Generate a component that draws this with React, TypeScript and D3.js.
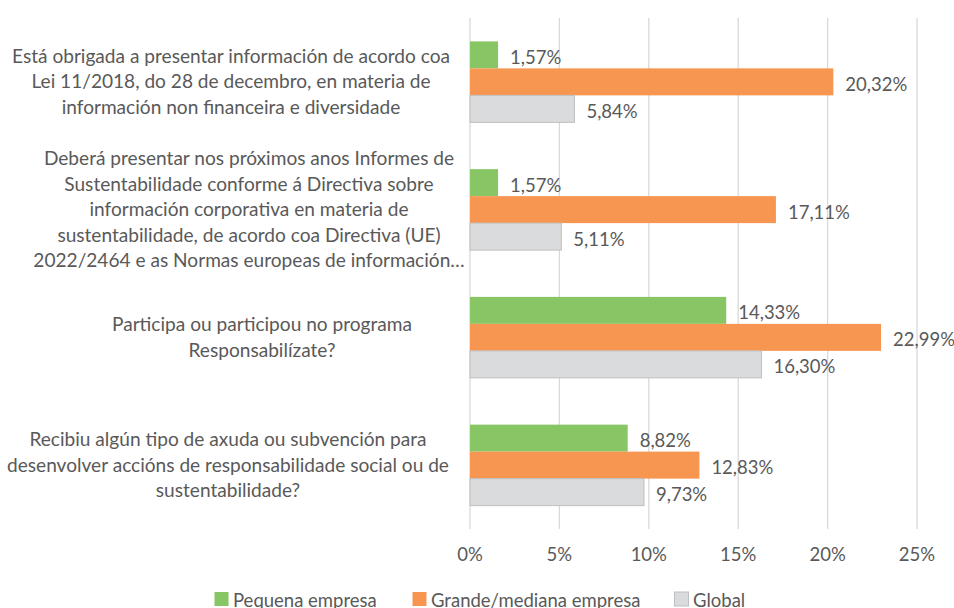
import * as d3 from "d3"

const W = 954
const H = 608
const MARGIN = { left: 470, top: 18, right: 37, bottom: 79 }
const FONT = "Lato, 'Open Sans', sans-serif"
const TEXT = "#595959"

// categories (each one wrapped in lines as in the picture)
const categories = [
  ["Está obrigada a presentar información de acordo coa", "Lei 11/2018, do 28 de decembro, en materia de", "información non financeira e diversidade"],
  ["Deberá presentar nos próximos anos Informes de", "Sustentabilidade conforme á Directiva sobre", "información corporativa en materia de", "sustentabilidade, de acordo coa Directiva (UE)", "2022/2464 e as Normas europeas de información…"],
  ["Participa ou participou no programa", "Responsabilízate?"],
  ["Recibiu algún tipo de axuda ou subvención para", "desenvolver accións de responsabilidade social ou de", "sustentabilidade?"],
]
const labelCenters = [231, 249, 262, 228]

const seriesNames = ["Pequena empresa", "Grande/mediana empresa", "Global"]
const pequena = [1.57, 1.57, 14.33, 8.82]
const grande = [20.32, 17.11, 22.99, 12.83]
const global = [5.84, 5.11, 16.30, 9.73]
const ticks = [0, 5, 10, 15, 20, 25]

const fills = ["#88c665", "#f79651", "#dadbdd"]
const strokes = ["none", "none", "#bfbfbf"]
const legendX = [214, 412, 674]

const fmt = (v: number) => v.toFixed(2).replace(".", ",") + "%"

export default function App() {
  const innerW = W - MARGIN.left - MARGIN.right
  const innerH = H - MARGIN.top - MARGIN.bottom
  const series = [pequena, grande, global]

  const x = d3.scaleLinear().domain([0, 25]).range([0, innerW])
  const y = d3.scaleBand<number>()
    .domain(d3.range(categories.length))
    .range([0, innerH])
    .paddingInner(0.366)
    .paddingOuter(0.183)
  const ySub = d3.scaleBand<number>()
    .domain(d3.range(series.length))
    .range([0, y.bandwidth()])
  const lineH = 25.5

  return (
    <svg width={W} height={H} style={{ position: "absolute", left: 0, top: 0, background: "#fff" }} fontFamily={FONT}>
      <g transform={`translate(${MARGIN.left},${MARGIN.top})`}>
        {ticks.map(t => (
          <g key={t}>
            <line x1={x(t)} x2={x(t)} y1={0} y2={innerH} stroke="#d9d9d9" strokeWidth={1.3} />
            <text x={x(t)} y={innerH + 25} textAnchor="middle" dominantBaseline="central" fontSize={18.5} fill={TEXT}>
              {t}%
            </text>
          </g>
        ))}
        {categories.map((_, ci) => (
          <g key={ci} transform={`translate(0,${y(ci)})`}>
            {series.map((s, si) => (
              <g key={si}>
                <rect
                  x={0}
                  y={ySub(si)}
                  width={x(s[ci])}
                  height={ySub.bandwidth()}
                  fill={fills[si]}
                  stroke={strokes[si]}
                  strokeWidth={1}
                />
                <text
                  x={x(s[ci]) + 12}
                  y={(ySub(si) as number) + ySub.bandwidth() / 2 + 2}
                  dominantBaseline="central"
                  fontSize={18.5}
                  fill={TEXT}
                >
                  {fmt(s[ci])}
                </text>
              </g>
            ))}
          </g>
        ))}
      </g>
      {categories.map((lines, ci) => {
        const cy = MARGIN.top + (y(ci) as number) + y.bandwidth() / 2
        const start = cy - ((lines.length - 1) * lineH) / 2
        return (
          <text key={ci} textAnchor="middle" fontSize={19.1} fill={TEXT}>
            {lines.map((l, li) => (
              <tspan key={li} x={labelCenters[ci]} y={start + li * lineH - 1} dominantBaseline="central">
                {l}
              </tspan>
            ))}
          </text>
        )
      })}
      {seriesNames.map((n, i) => (
        <g key={n} transform={`translate(${legendX[i]},${599})`}>
          <rect x={0.5} y={-7} width={14} height={14} fill={fills[i]} stroke={strokes[i]} />
          <text x={19} y={1} dominantBaseline="central" fontSize={18.5} fill={TEXT}>{n}</text>
        </g>
      ))}
    </svg>
  )
}
